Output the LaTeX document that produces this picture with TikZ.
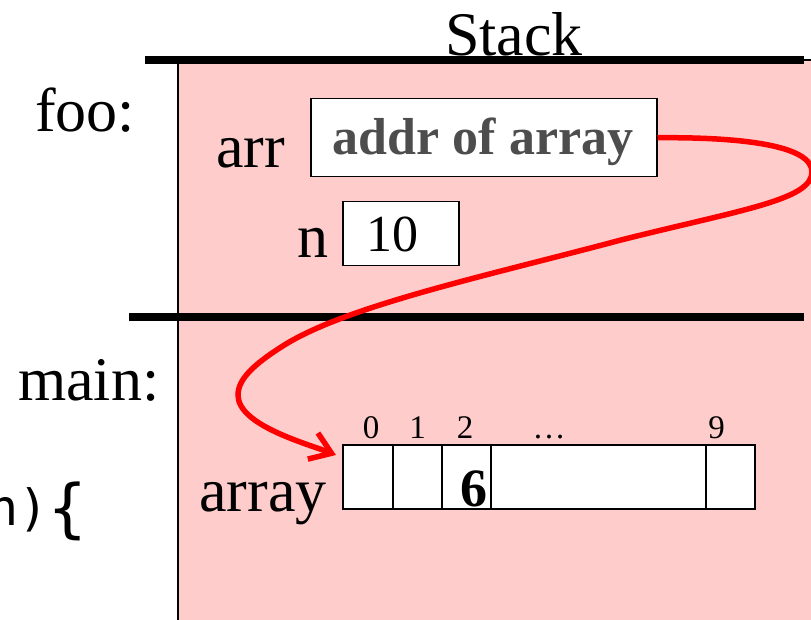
\documentclass[tikz,border=0pt]{standalone}
\usepackage{fontspec}
\setmainfont{Liberation Serif}
\newfontfamily\monof{DejaVu Sans Mono}
\usetikzlibrary{arrows.meta}
\definecolor{stackpink}{HTML}{FFCCCC}
\definecolor{addrgray}{HTML}{4D4D4D}
\begin{document}
\begin{tikzpicture}[x=1pt,y=-1pt,
  lbl/.style={inner sep=0pt, anchor=base west, font=\fontsize{62}{62}\selectfont},
  cellbox/.style={draw=black, line width=1.5pt, fill=white, inner sep=0pt, anchor=north west},
  idx/.style={inner sep=0pt, anchor=base, font=\fontsize{33}{33}\selectfont},
  thickbar/.style={line width=8pt},
  redline/.style={draw=red, line width=5.5pt, -{Straight Barb[length=20pt,width=28pt]}}]
\useasboundingbox (0,0) rectangle (811,620);
\clip (0,0) rectangle (811,620);
% stack region
\draw[fill=stackpink, line width=1.5pt] (178,60) rectangle (840,660);
\draw[thickbar] (145,60) -- (804,60);
\draw[thickbar] (129,316.7) -- (804,316.7);
% labels
\node[lbl, anchor=base] (stack) at (514,56) {Stack};
\node[lbl] (foo) at (35,132) {foo:};
\node[lbl] (arrlbl) at (216,168) {arr};
\node[lbl] (nlbl) at (297,258) {n};
\node[lbl] (mainlbl) at (18,400) {main:};
\node[lbl] (arraylbl) at (199,511) {array};
\node[inner sep=0pt, anchor=base west, font=\monof\fontsize{50}{50}\selectfont] (code) at (-12,525)
  {n)\raisebox{-5pt}{\fontsize{64}{64}\selectfont\{}};
% foo frame boxes
\node[cellbox, minimum width=346pt, minimum height=78pt] (addr) at (310,98) {};
\node[inner sep=0pt, anchor=base, font=\bfseries\fontsize{52}{52}\selectfont, text=addrgray] (addrtxt) at (483,155) {addr of array};
\node[cellbox, minimum width=116pt, minimum height=64pt] (nbox) at (342,201) {};
\node[inner sep=0pt, anchor=base, font=\fontsize{52}{52}\selectfont] (ten) at (392,252) {10};
% array cells
\node[cellbox, minimum width=50pt, minimum height=64pt] (c0) at (342,444) {};
\node[cellbox, minimum width=49pt, minimum height=64pt] (c1) at (392,444) {};
\node[cellbox, minimum width=49pt, minimum height=64pt] (c2) at (441,444) {};
\node[cellbox, minimum width=215pt, minimum height=64pt] (c3) at (490,444) {};
\node[cellbox, minimum width=49pt, minimum height=64pt] (c4) at (705,444) {};
\node[idx] (i0) at (371,438) {0};
\node[idx] (i1) at (417.5,438) {1};
\node[idx] (i2) at (465,438) {2};
\node[idx] (idots) at (549,438) {\dots};
\node[idx] (i9) at (716.5,438) {9};
\node[inner sep=0pt, anchor=base, font=\bfseries\fontsize{54}{54}\selectfont] (six) at (474,506) {6};
% pointer
\coordinate (tip) at (336,455);
\draw[redline] (addr.east) .. controls (740,137) and (812,145) .. (812,172)
  .. controls (812,200) and (740,210) .. (621,240)
  .. controls (490,275) and (350,305) .. (286,344)
  .. controls (252,365) and (238,380) .. (238,395)
  .. controls (238,425) and (305,443) .. (tip);
\end{tikzpicture}
\end{document}
